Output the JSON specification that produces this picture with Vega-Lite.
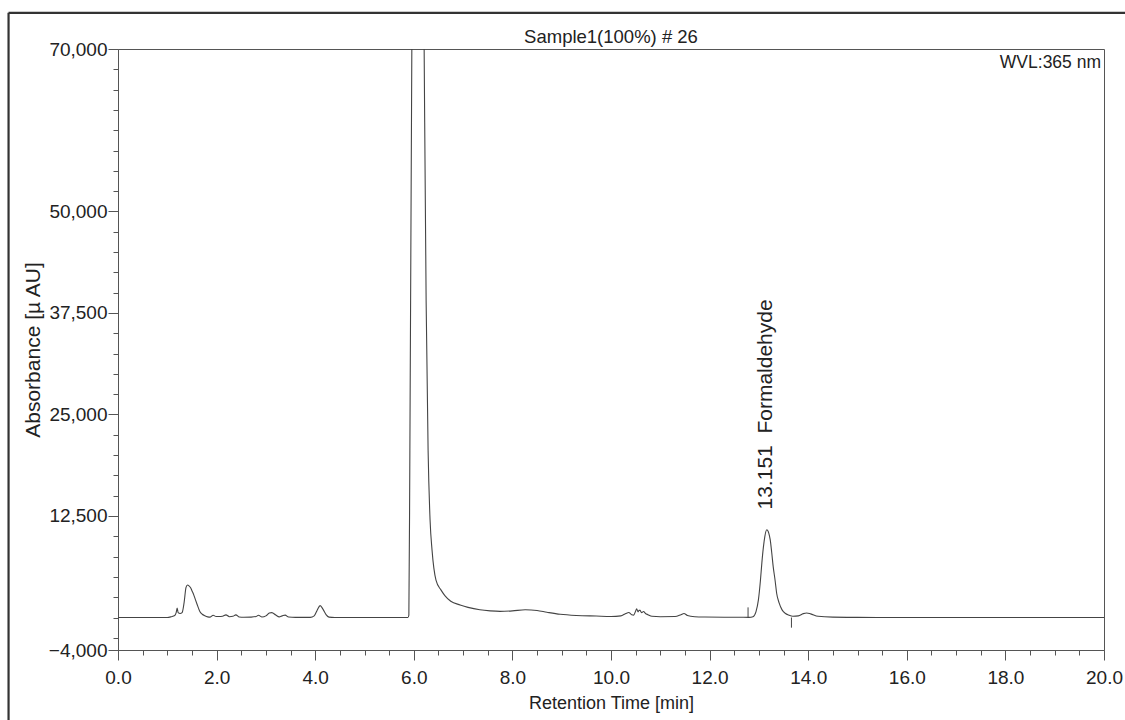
{
  "$schema": "https://vega.github.io/schema/vega-lite/v6.json",
  "width": 986,
  "height": 601,
  "autosize": {"type": "none"},
  "padding": {"left": 118, "top": 49, "right": 21, "bottom": 70},
  "background": "white",
  "config": {
    "font": "Liberation Sans",
    "view": {"stroke": "#555", "strokeWidth": 1},
    "axis": {"grid": false, "domainColor": "#555", "tickColor": "#555", "labelColor": "#222", "titleColor": "#222", "labelFont": "Liberation Sans", "titleFont": "Liberation Sans", "titleFontWeight": "normal"}
  },
  "title": {"text": "Sample1(100%) # 26", "fontSize": 18.5, "fontWeight": "normal", "color": "#222", "font": "Liberation Sans", "baseline": "alphabetic", "offset": -50, "anchor": "middle"},
  "datasets": {
    "trace": [
      {"t": 0.0, "v": 0}, {"t": 0.5, "v": 0}, {"t": 1.0, "v": 0}, {"t": 1.08, "v": 100}, {"t": 1.15, "v": 250},
      {"t": 1.18, "v": 600}, {"t": 1.2, "v": 1150}, {"t": 1.22, "v": 600}, {"t": 1.26, "v": 500}, {"t": 1.3, "v": 600},
      {"t": 1.34, "v": 1800}, {"t": 1.38, "v": 3700}, {"t": 1.41, "v": 4000}, {"t": 1.44, "v": 3900}, {"t": 1.47, "v": 3700},
      {"t": 1.5, "v": 3300}, {"t": 1.53, "v": 2900}, {"t": 1.57, "v": 2200}, {"t": 1.6, "v": 1700}, {"t": 1.66, "v": 750},
      {"t": 1.71, "v": 400}, {"t": 1.76, "v": 220}, {"t": 1.82, "v": 80}, {"t": 1.87, "v": 50}, {"t": 1.93, "v": 280},
      {"t": 1.99, "v": 120}, {"t": 2.05, "v": 120}, {"t": 2.12, "v": 150}, {"t": 2.19, "v": 330}, {"t": 2.26, "v": 100},
      {"t": 2.33, "v": 150}, {"t": 2.39, "v": 330}, {"t": 2.46, "v": 60}, {"t": 2.55, "v": 30}, {"t": 2.7, "v": 50},
      {"t": 2.8, "v": 120}, {"t": 2.85, "v": 280}, {"t": 2.92, "v": 60}, {"t": 3.0, "v": 200}, {"t": 3.07, "v": 550},
      {"t": 3.12, "v": 600}, {"t": 3.2, "v": 300}, {"t": 3.27, "v": 80}, {"t": 3.33, "v": 200}, {"t": 3.39, "v": 300},
      {"t": 3.46, "v": 60}, {"t": 3.6, "v": 20}, {"t": 3.9, "v": 20}, {"t": 3.98, "v": 200}, {"t": 4.04, "v": 900},
      {"t": 4.1, "v": 1470}, {"t": 4.16, "v": 1000}, {"t": 4.22, "v": 350}, {"t": 4.28, "v": 50}, {"t": 4.4, "v": 0},
      {"t": 5.0, "v": 0}, {"t": 5.5, "v": 0}, {"t": 5.88, "v": 0}, {"t": 5.9, "v": 300}, {"t": 5.92, "v": 20000},
      {"t": 5.96, "v": 70000}, {"t": 6.0, "v": 130000}, {"t": 6.08, "v": 170000}, {"t": 6.15, "v": 120000}, {"t": 6.21, "v": 70000},
      {"t": 6.25, "v": 39000}, {"t": 6.29, "v": 20600}, {"t": 6.33, "v": 12000}, {"t": 6.37, "v": 8300}, {"t": 6.45, "v": 4600},
      {"t": 6.55, "v": 3400}, {"t": 6.63, "v": 2700}, {"t": 6.75, "v": 2000}, {"t": 6.94, "v": 1550}, {"t": 7.1, "v": 1250},
      {"t": 7.34, "v": 950}, {"t": 7.55, "v": 820}, {"t": 7.75, "v": 760}, {"t": 8.0, "v": 820}, {"t": 8.26, "v": 950},
      {"t": 8.5, "v": 860}, {"t": 8.7, "v": 650}, {"t": 8.97, "v": 400}, {"t": 9.3, "v": 250}, {"t": 9.7, "v": 180},
      {"t": 10.0, "v": 130}, {"t": 10.2, "v": 200}, {"t": 10.3, "v": 500}, {"t": 10.36, "v": 620}, {"t": 10.42, "v": 350},
      {"t": 10.46, "v": 300}, {"t": 10.5, "v": 800}, {"t": 10.52, "v": 1060}, {"t": 10.55, "v": 700}, {"t": 10.57, "v": 900},
      {"t": 10.59, "v": 880}, {"t": 10.62, "v": 600}, {"t": 10.66, "v": 740}, {"t": 10.7, "v": 500}, {"t": 10.75, "v": 350},
      {"t": 10.83, "v": 150}, {"t": 11.0, "v": 100}, {"t": 11.3, "v": 120}, {"t": 11.42, "v": 350}, {"t": 11.48, "v": 490},
      {"t": 11.55, "v": 250}, {"t": 11.7, "v": 100}, {"t": 11.9, "v": 60}, {"t": 12.3, "v": 40}, {"t": 12.62, "v": 30},
      {"t": 12.8, "v": 20}, {"t": 12.88, "v": 100}, {"t": 12.94, "v": 700}, {"t": 12.99, "v": 2170}, {"t": 13.03, "v": 4500},
      {"t": 13.06, "v": 6730}, {"t": 13.09, "v": 8600}, {"t": 13.12, "v": 9970}, {"t": 13.16, "v": 10800}, {"t": 13.2, "v": 10400},
      {"t": 13.23, "v": 9560}, {"t": 13.26, "v": 8000}, {"t": 13.29, "v": 6270}, {"t": 13.33, "v": 4500}, {"t": 13.36, "v": 2990},
      {"t": 13.41, "v": 1800}, {"t": 13.47, "v": 940}, {"t": 13.54, "v": 500}, {"t": 13.6, "v": 320}, {"t": 13.69, "v": 150},
      {"t": 13.8, "v": 200}, {"t": 13.9, "v": 480}, {"t": 13.97, "v": 560}, {"t": 14.05, "v": 450}, {"t": 14.2, "v": 150},
      {"t": 14.5, "v": 50}, {"t": 15.0, "v": 20}, {"t": 16.0, "v": 0}, {"t": 17.0, "v": 0}, {"t": 18.0, "v": 0}, {"t": 20.0, "v": 0}
    ],
    "markers": [
      {"t": 12.78, "v1": 0, "v2": 1250},
      {"t": 13.66, "v1": -1250, "v2": 0}
    ],
    "peaks": [
      {"t": 13.151, "v": 13300, "label": "13.151\u00a0\u00a0Formaldehyde"}
    ],
    "info": [
      {"t": 20, "v": 70000, "label": "WVL:365 nm"}
    ]
  },
  "layer": [
    {
      "data": {"name": "markers"},
      "mark": {"type": "rule", "color": "#444", "strokeWidth": 1},
      "encoding": {
        "x": {"field": "t", "type": "quantitative", "scale": {"domain": [0, 20], "nice": false, "zero": false},
              "axis": {"orient": "bottom", "values": [0.5,1,1.5,2,2.5,3,3.5,4,4.5,5,5.5,6,6.5,7,7.5,8,8.5,9,9.5,10,10.5,11,11.5,12,12.5,13,13.5,14,14.5,15,15.5,16,16.5,17,17.5,18,18.5,19,19.5], "tickSize": 5, "labels": false, "domain": false, "title": null}},
        "y": {"field": "v1", "type": "quantitative", "scale": {"domain": [-4000, 70000], "nice": false, "zero": false},
              "axis": {"orient": "left", "values": [-2500,0,2500,5000,7500,10000,15000,17500,20000,22500,27500,30000,32500,35000,40000,42500,45000,47500,52500,55000,57500,60000,62500,65000,67500], "tickSize": 5, "labels": false, "domain": false, "title": null}},
        "y2": {"field": "v2"}
      }
    },
    {
      "data": {"name": "trace"},
      "mark": {"type": "line", "color": "#444", "strokeWidth": 1.1, "clip": true, "interpolate": "monotone"},
      "encoding": {
        "x": {"field": "t", "type": "quantitative",
              "axis": {"orient": "bottom", "values": [0,2,4,6,8,10,12,14,16,18,20], "format": ".1f", "tickSize": 10, "labelFontSize": 19, "labelPadding": 8, "labelFlush": false, "labelOverlap": false, "title": "Retention Time [min]", "titleFontSize": 18, "titlePadding": 7}},
        "y": {"field": "v", "type": "quantitative",
              "axis": {"orient": "left", "values": [-4000,12500,25000,37500,50000,70000], "format": ",d", "tickSize": 10, "labelFontSize": 19, "labelPadding": 1, "labelOverlap": false, "labelFlush": false, "title": "Absorbance [µ AU]", "titleFontSize": 21, "titlePadding": 5}}
      }
    },
    {
      "data": {"name": "peaks"},
      "mark": {"type": "text", "angle": 270, "align": "left", "baseline": "middle", "fontSize": 21, "color": "#222", "font": "Liberation Sans"},
      "encoding": {
        "x": {"field": "t", "type": "quantitative", "axis": null},
        "y": {"field": "v", "type": "quantitative", "axis": null},
        "text": {"field": "label"}
      }
    },
    {
      "data": {"name": "info"},
      "mark": {"type": "text", "align": "right", "baseline": "top", "dx": -3, "dy": 5, "fontSize": 17.5, "color": "#222", "font": "Liberation Sans"},
      "encoding": {
        "x": {"field": "t", "type": "quantitative", "axis": null},
        "y": {"field": "v", "type": "quantitative", "axis": null},
        "text": {"field": "label"}
      }
    },
    {
      "data": {"values": [{}]},
      "mark": {"type": "rule", "color": "#333", "strokeWidth": 2.2},
      "encoding": {
        "x": {"datum": -2.22, "type": "quantitative", "axis": null},
        "y": {"datum": 74450, "type": "quantitative", "axis": null},
        "y2": {"datum": -16000}
      }
    },
    {
      "data": {"values": [{}]},
      "mark": {"type": "rule", "color": "#333", "strokeWidth": 2.2},
      "encoding": {
        "x": {"datum": -2.22, "type": "quantitative", "axis": null},
        "x2": {"datum": 22},
        "y": {"datum": 74450, "type": "quantitative", "axis": null}
      }
    }
  ],
  "resolve": {"axis": {"x": "independent", "y": "independent"}}
}
